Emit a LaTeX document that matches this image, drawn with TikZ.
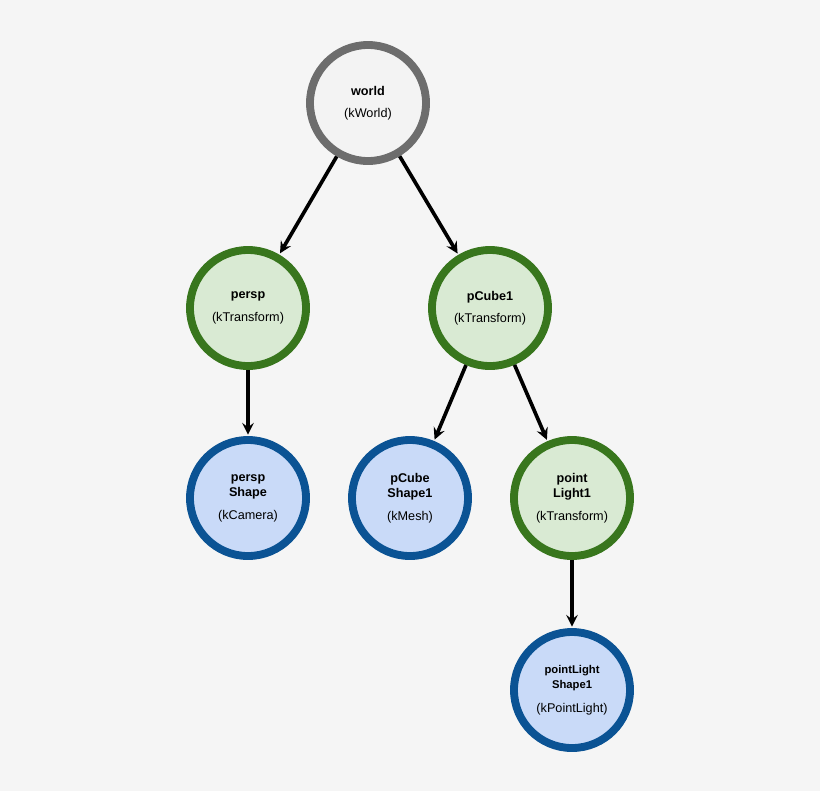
\documentclass[tikz,border=0pt]{standalone}
\usepackage{fontspec}
\setmainfont{Liberation Sans}
\usetikzlibrary{positioning}
\definecolor{bgcol}{HTML}{F5F5F5}
\definecolor{worlddraw}{HTML}{6D6D6D}
\definecolor{worldfill}{HTML}{F3F3F3}
\definecolor{xformdraw}{HTML}{38761D}
\definecolor{xformfill}{HTML}{D9EAD3}
\definecolor{shapedraw}{HTML}{0B5394}
\definecolor{shapefill}{HTML}{C9DAF8}

\begin{document}
\begin{tikzpicture}[
		x=0.025cm,y=-0.025cm,
		>=stealth,
		every node/.append style={
			circle,
			line width=5.6pt,
			minimum size=2.9cm,
			inner sep=0pt,
			align=center,
			font=\small,
		},
		worldnode/.style={draw=worlddraw,fill=worldfill},
		xformnode/.style={draw=xformdraw,fill=xformfill},
		shapenode/.style={draw=shapedraw,fill=shapefill},
		link/.style={->,line width=2.6pt,shorten >=1pt},
	]
	\fill[bgcol] (0,0) rectangle (820,791);
	% top of the tree
	\node[worldnode] (world) at (368,103) {\textbf{world}\\[5pt](kWorld)};
	% second row
	\node[xformnode] (persp) at (248,308) {\textbf{persp}\\[5pt](kTransform)};
	\node[xformnode] (pcube) at (490,308) {\textbf{pCube1}\\[5pt](kTransform)};
	% third row
	\node[shapenode] (perspshape) at (248,498) {\textbf{persp}\\\textbf{Shape}\\[5pt](kCamera)};
	\node[shapenode] (pcubeshape) at (410,498) {\textbf{pCube}\\\textbf{Shape1}\\[5pt](kMesh)};
	\node[xformnode] (pointlight) at (572,498) {\textbf{point}\\\textbf{Light1}\\[5pt](kTransform)};
	% bottom
	\node[shapenode] (lightshape) at (572,690) {\footnotesize\textbf{pointLight}\\\footnotesize\textbf{Shape1}\\[6pt](kPointLight)};
	% draw the connection lines
	\draw[link] (world) -- (persp);
	\draw[link] (world) -- (pcube);
	\draw[link] (persp) -- (perspshape);
	\draw[link] (pcube) -- (pcubeshape);
	\draw[link] (pcube) -- (pointlight);
	\draw[link] (pointlight) -- (lightshape);
\end{tikzpicture}
\end{document}
